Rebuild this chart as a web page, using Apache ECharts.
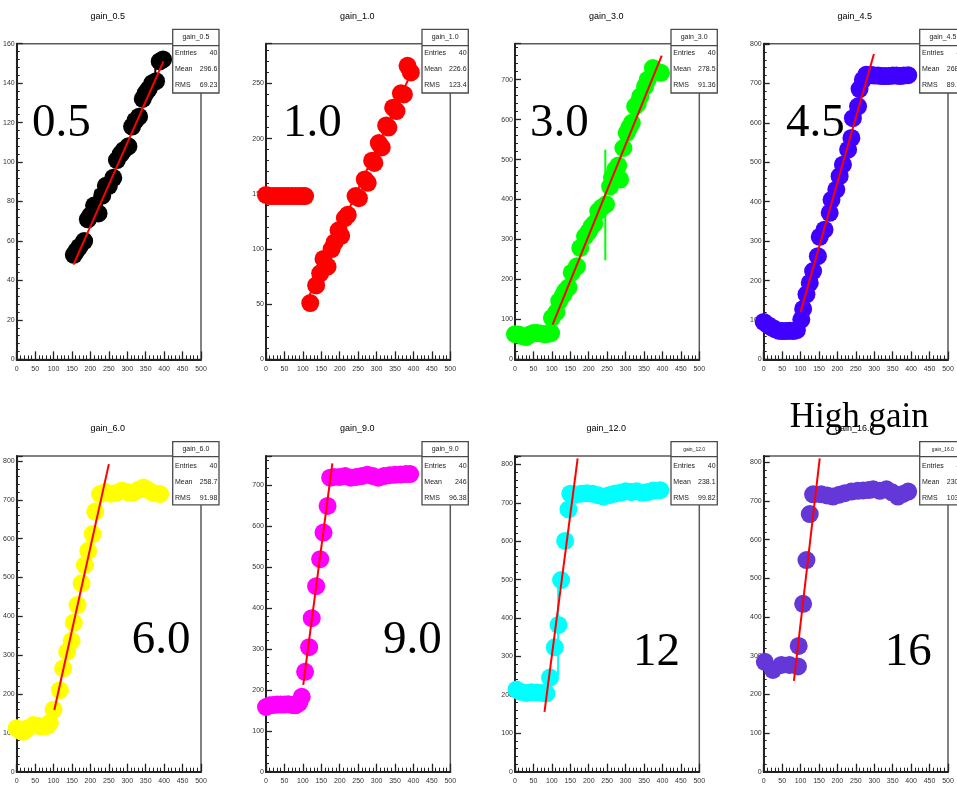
<!DOCTYPE html>
<html><head><meta charset="utf-8">
<script src="https://cdn.jsdelivr.net/npm/echarts@6/dist/echarts.min.js"></script>
<style>html,body{margin:0;padding:0;background:#fff}#c{width:957px;height:785px}</style>
</head><body><div id="c"></div><script>
// ---- data ----
const titles = ['gain_0.5','gain_1.0','gain_3.0','gain_4.5','gain_6.0','gain_9.0','gain_12.0','gain_16.0'];
const bigLabels = ['0.5','1.0','3.0','4.5','6.0','9.0','12','16'];
const entries = ['40','40','40','40','40','40','40','40'];
const means = ['296.6','226.6','278.5','268.4','258.7','246','238.1','230.5'];
const rmsVals = ['69.23','123.4','91.36','89.71','91.98','96.38','99.82','103.4'];
const xTickLabels = [0,50,100,150,200,250,300,350,400,450,500];
const yMax = [160,286,790,801,813,771,822,816];
const yStep = [20,50,100,100,100,100,100,100];

const p05 = [[155,53],[162,55],[170,57],[183,60],[193,71],[200,73],[210,78],[222,74],[232,83],[242,88],[250,88],[262,92],[272,101],[282,104],[290,106],[303,108],[313,118],[322,121],[332,123],[342,132],[350,135],[358,137],[368,140],[378,141],[388,151],[397,152]];
const p10 = [[0,149],[10,148],[20,148],[30,148],[40,148],[50,148],[60,148],[70,148],[80,148],[90,148],[100,148],[106,148],
  [120,51],[136,67],[147,78],[156,91],[167,84],[178,100],[186,106],[197,117],[204,112],[214,128],[222,131],[243,148],[252,146],[268,163],[276,160],[288,180],[294,178],[306,196],[314,192],[326,212],[332,210],[345,228],[354,225],[366,241],[374,240],[384,266],[393,260]];
const p30 = [[0,63],[10,62],[20,58],[30,56],[40,62],[50,66],[60,66],[70,65],[80,63],[90,64],[98,66],
  [100,104],[112,118],[120,146],[130,160],[136,171],[145,180],[154,217],[168,233],[177,279],[190,308],[200,320],[208,333],[215,340],[226,371],[235,380],[247,388],[258,433],[263,455],[272,475],[280,485],[285,450],[294,529],[303,567],[310,580],[317,592],[326,633],[333,640],[340,658],[353,683],[360,700],[374,729],[396,717]];
const p45 = [[0,95],[10,88],[20,82],[30,77],[40,73],[50,72],[60,72],[70,73],[80,72],[90,74],[102,101],[107,128],[116,165],[125,194],[134,224],[147,262],[152,311],[165,329],[179,372],[184,405],[197,431],[206,465],[215,494],[229,532],[238,562],[242,612],[256,642],[260,686],[269,709],[278,722],[290,722],[300,720],[310,720],[320,719],[330,719],[340,719],[350,720],[360,720],[370,719],[380,720],[392,721]];
const p60 = [[0,112],[10,105],[18,103],[30,112],[45,120],[60,118],[72,116],[82,118],[90,126],[100,160],[117,210],[126,266],[137,309],[149,337],[155,384],[165,429],[176,485],[185,532],[194,569],[206,612],[213,670],[226,715],[240,720],[255,716],[270,718],[285,724],[300,720],[315,718],[330,726],[344,732],[355,726],[370,718],[389,715]];
const p90 = [[0,158],[10,162],[20,163],[30,164],[40,164],[50,164],[60,165],[70,163],[80,162],[90,168],[97,183],[106,244],[117,304],[124,375],[136,453],[147,519],[156,584],[167,649],[174,718],[185,720],[200,720],[215,722],[230,718],[245,720],[260,722],[275,725],[290,722],[305,718],[320,722],[335,724],[350,725],[365,726],[380,727],[391,727]];
const p12 = [[4,214],[15,208],[30,205],[45,207],[60,206],[75,205],[85,204],[95,245],[108,324],[118,382],[125,499],[136,601],[145,683],[150,724],[165,722],[180,724],[195,725],[210,724],[225,720],[240,716],[255,720],[270,724],[285,726],[300,730],[315,728],[330,730],[345,726],[360,728],[375,732],[394,733]];
const p16 = [[3,284],[25,263],[48,276],[70,276],[93,272],[95,325],[107,434],[116,547],[125,666],[134,717],[156,717],[172,714],[188,711],[205,716],[220,720],[238,724],[255,726],[270,727],[285,728],[297,730],[315,726],[333,730],[348,722],[364,711],[378,718],[392,724]];

const fit05 = [[154,48],[398,151]];
const fit10 = [[115,56],[392,258]];
const fit30 = [[102,87],[398,760]];
const fit45 = [[100,120],[299,775]];
const fit60 = [[102,159],[250,792]];
const fit90 = [[101,212],[180,753]];
const fit12 = [[80,156],[170,816]];
const fit16 = [[82,235],[152,810]];

const err05 = [[214,74,86],[376,140,148]];
const err30 = [[245,248,525]];
const err12 = [[117,250,485]];

const points = [p05,p10,p30,p45,p60,p90,p12,p16];
const fits = [fit05,fit10,fit30,fit45,fit60,fit90,fit12,fit16];
const errs = [err05,[],err30,[],[],[],err12,[]];

// ---- style / layout ----
const colors = ['#000000','#ff0000','#00ff00','#3f00ff','#ffff00','#ff00ff','#00ffff','#6438d8'];
const lefts = [16.7,266,515,763.7];
const tops = [43.7,456];
const W = 184.3, H = 315.7;
const sans = 'Liberation Sans, Arial, sans-serif';
const serif = 'Liberation Serif, Times New Roman, serif';
const bigPos = [[32,124],[283,124],[530,124],[786,124],[131.7,640.7],[383,640.7],[633,653],[884.7,653]];

const grids=[], xAxes=[], yAxes=[], series=[], graphics=[];
for (let i=0;i<8;i++){
  const L = lefts[i%4], T = tops[Math.floor(i/4)];
  grids.push({left:L, top:T, width:W, height:H, show:true, borderColor:'#5a5a5a', borderWidth:1.5, backgroundColor:'transparent'});
  xAxes.push({gridIndex:i, type:'value', min:0, max:500, interval:50,
    axisLine:{show:true, onZero:false, lineStyle:{color:'#222', width:2}},
    axisTick:{show:true, inside:true, length:8, lineStyle:{color:'#222', width:1.3}},
    minorTick:{show:true, splitNumber:5, length:4, lineStyle:{color:'#222', width:1}},
    axisLabel:{fontSize:7, color:'#333', margin:6, fontFamily:sans,
      formatter:(v)=> xTickLabels.indexOf(v)>=0 ? String(v) : ''},
    splitLine:{show:false}});
  const st = yStep[i];
  yAxes.push({gridIndex:i, type:'value', min:0, max:yMax[i], interval:st,
    axisLine:{show:true, onZero:false, lineStyle:{color:'#222', width:2}},
    axisTick:{show:true, inside:true, length:6, lineStyle:{color:'#222', width:1.3}},
    minorTick:{show:true, splitNumber:5, length:3, lineStyle:{color:'#222', width:1}},
    axisLabel:{fontSize:7, color:'#333', margin:2, fontFamily:sans, showMaxLabel:true,
      formatter:(v)=> (Math.abs(v % st) < 1e-6 && v <= yMax[i]) ? String(v) : ''},
    splitLine:{show:false}});
  series.push({type:'scatter', xAxisIndex:i, yAxisIndex:i, data:points[i], symbol:'circle', symbolSize:18,
    itemStyle:{color:colors[i], opacity:1}, clip:true, z:2, silent:true});
  if (errs[i].length){
    const col = colors[i];
    series.push({type:'custom', xAxisIndex:i, yAxisIndex:i, data:errs[i], z:3, silent:true,
      renderItem:(params, api)=>{
        const a = api.coord([api.value(0), api.value(1)]);
        const b = api.coord([api.value(0), api.value(2)]);
        return {type:'line', shape:{x1:a[0], y1:a[1], x2:b[0], y2:b[1]}, style:{stroke:col, lineWidth:2}};
      }});
  }
  series.push({type:'line', xAxisIndex:i, yAxisIndex:i, data:fits[i], symbol:'none', z:4, silent:true,
    lineStyle:{color:'#ff0000', width:2}});

  // title
  graphics.push({type:'text', x:L+W/2-1, y:T-27, style:{text:titles[i], font:'9px '+sans, fill:'#000', textAlign:'center', textVerticalAlign:'middle'}, z:10});
  // stats box
  const bx = L + 156, bw = 46.3;
  const by = T - 14.4, bh = (i<4 ? 63.7 : 63.3);
  const div = (i<4 ? T+2 : T+0.7);
  const r0 = (i<4 ? T+9.6 : T+9.7);
  graphics.push({type:'rect', shape:{x:bx, y:by, width:bw, height:bh}, style:{fill:'#fff', stroke:'#4a4a4a', lineWidth:1.3}, z:20});
  graphics.push({type:'line', shape:{x1:bx, y1:div, x2:bx+bw, y2:div}, style:{stroke:'#4a4a4a', lineWidth:1.3}, z:21});
  graphics.push({type:'text', x:bx+bw/2, y:(by+div)/2, style:{text:titles[i], font:(i>=6?'5px ':'7px ')+sans, fill:'#222', textAlign:'center', textVerticalAlign:'middle'}, z:22});
  const rows = [['Entries',entries[i]],['Mean',means[i]],['RMS',rmsVals[i]]];
  rows.forEach((r,k)=>{
    graphics.push({type:'text', x:bx+2.3, y:r0+16*k, style:{text:r[0], font:'7px '+sans, fill:'#222', textAlign:'left', textVerticalAlign:'middle'}, z:22});
    graphics.push({type:'text', x:bx+bw-1.7, y:r0+16*k, style:{text:r[1], font:'7px '+sans, fill:'#222', textAlign:'right', textVerticalAlign:'middle'}, z:22});
  });
  // big label
  graphics.push({type:'text', x:bigPos[i][0], y:bigPos[i][1], style:{text:bigLabels[i], font:'47px '+serif, fill:'#000', textAlign:'left', textVerticalAlign:'middle'}, z:15});
}
graphics.push({type:'text', x:789.7, y:418, style:{text:'High gain', font:'35px '+serif, fill:'#000', textAlign:'left', textVerticalAlign:'middle'}, z:30});

const chart = echarts.init(document.getElementById('c'), null, {renderer:'canvas'});
chart.setOption({animation:false, backgroundColor:'#fff', grid:grids, xAxis:xAxes, yAxis:yAxes, series:series, graphic:graphics});
</script></body></html>
